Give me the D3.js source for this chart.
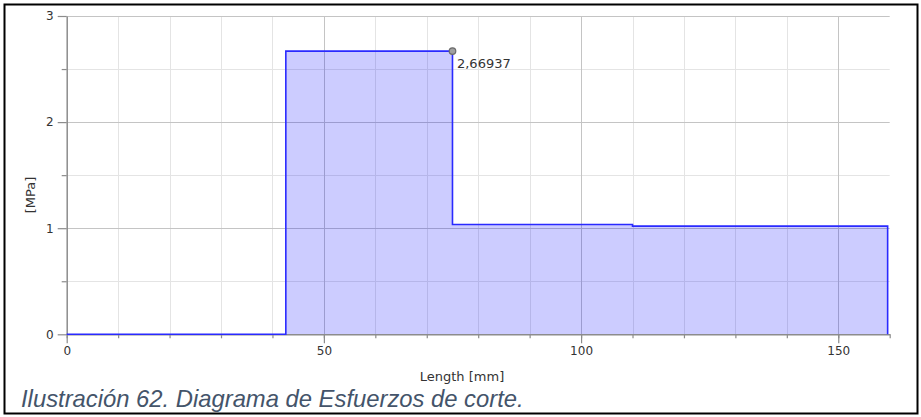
<!DOCTYPE html>
<html>
<head>
<meta charset="utf-8">
<script src="https://cdn.jsdelivr.net/npm/d3@7"></script>
<style>
  html, body { margin: 0; padding: 0; background: #fff; }
  svg { display: block; font-family: "DejaVu Sans", Verdana, sans-serif; }
</style>
</head>
<body>
<svg id="chart" width="921" height="417"></svg>
<script>
// Shear stress along the part: step boundaries [mm] and the value held on each step [MPa]
const stepStarts = [0, 42.6, 75, 110, 159.6];
const stepValues = [0, 2.66937, 1.035, 1.02, 0];

// Axis ticks
const xMajorTicks = [0, 50, 100, 150];
const xMinorTicks = d3.range(0, 161, 10);
const yMajorTicks = [0, 1, 2, 3];
const yMinorTicks = [0.5, 1.5, 2.5];

// Annotated peak
const peakX = 75;
const peakValue = 2.66937;
const peakLabel = "2,66937";

const xTitle = "Length [mm]";
const yTitle = "[MPa]";
const caption = "Ilustración 62. Diagrama de Esfuerzos de corte.";

const svg = d3.select("#chart");

const x = d3.scaleLinear().domain([0, 160]).range([66.7, 889.7]);
const y = d3.scaleLinear().domain([0, 3]).range([334.3, 16]);

// Outer frame
svg.append("rect")
  .attr("x", 4.5).attr("y", 4.5)
  .attr("width", 913).attr("height", 409)
  .attr("fill", "none").attr("stroke", "#000").attr("stroke-width", 2);

// Grid
const grid = svg.append("g");
grid.selectAll("line.vminor").data(xMinorTicks.filter(d => d % 50 !== 0 && d < 160)).join("line")
  .attr("x1", d => Math.round(x(d)) + 0.5).attr("x2", d => Math.round(x(d)) + 0.5)
  .attr("y1", y(3)).attr("y2", y(0))
  .attr("stroke", "#e4e4e4").attr("stroke-width", 1);
grid.selectAll("line.hminor").data(yMinorTicks).join("line")
  .attr("x1", x(0)).attr("x2", x(160))
  .attr("y1", d => Math.round(y(d)) + 0.5).attr("y2", d => Math.round(y(d)) + 0.5)
  .attr("stroke", "#e4e4e4").attr("stroke-width", 1);
grid.selectAll("line.vmajor").data(xMajorTicks.filter(d => d > 0)).join("line")
  .attr("x1", d => Math.round(x(d)) + 0.5).attr("x2", d => Math.round(x(d)) + 0.5)
  .attr("y1", y(3)).attr("y2", y(0))
  .attr("stroke", "#c4c4c4").attr("stroke-width", 1);
grid.selectAll("line.hmajor").data(yMajorTicks.filter(d => d > 0)).join("line")
  .attr("x1", x(0)).attr("x2", x(160))
  .attr("y1", d => Math.round(y(d)) + 0.5).attr("y2", d => Math.round(y(d)) + 0.5)
  .attr("stroke", "#c4c4c4").attr("stroke-width", 1);

// Stepped series
const pts = stepStarts.map((s, i) => [s, stepValues[i]]);
const area = d3.area()
  .x(d => x(d[0])).y0(y(0)).y1(d => y(d[1]))
  .curve(d3.curveStepAfter);
const line = d3.line()
  .x(d => x(d[0])).y(d => y(d[1]))
  .curve(d3.curveStepAfter);

svg.append("path").datum(pts)
  .attr("d", area)
  .attr("fill", "rgb(0,0,255)").attr("fill-opacity", 0.2);

// Axes
const xAxisMajor = d3.axisBottom(x).tickValues(xMajorTicks).tickSize(9).tickPadding(3).tickFormat(d3.format("d"));
const xAxisMinor = d3.axisBottom(x).tickValues(xMinorTicks).tickSize(4).tickFormat("");
const yAxisMajor = d3.axisLeft(y).tickValues(yMajorTicks).tickSize(9).tickPadding(4).tickFormat(d3.format("d"));
const yAxisMinor = d3.axisLeft(y).tickValues(yMinorTicks).tickSize(5).tickFormat("");

function styleAxis(g) {
  g.select(".domain").attr("stroke", "#8c8c8c").attr("stroke-width", 1.5);
  g.selectAll(".tick line").attr("stroke", "#8c8c8c").attr("stroke-width", 1.2);
  g.selectAll(".tick text").attr("fill", "#333").attr("font-size", 12)
    .style("font-family", "'DejaVu Sans', Verdana, sans-serif");
}

svg.append("g").attr("transform", `translate(0,${y(0)})`).call(xAxisMinor)
  .call(g => { styleAxis(g); g.select(".domain").remove(); });
svg.append("g").attr("transform", `translate(0,${y(0)})`).call(xAxisMajor.tickSizeOuter(0))
  .call(styleAxis);
svg.append("g").attr("transform", `translate(${x(0)},0)`).call(yAxisMinor)
  .call(g => { styleAxis(g); g.select(".domain").remove(); });
svg.append("g").attr("transform", `translate(${x(0)},0)`).call(yAxisMajor.tickSizeOuter(0))
  .call(styleAxis);

svg.append("path").datum(pts)
  .attr("d", line)
  .attr("fill", "none").attr("stroke", "#2a2aff").attr("stroke-width", 1.6);

// Peak marker and value
svg.append("circle")
  .attr("cx", x(peakX)).attr("cy", y(peakValue)).attr("r", 3.3)
  .attr("fill", "#a0a0a0").attr("stroke", "#6a6a6a").attr("stroke-width", 1.2);
svg.append("text")
  .attr("x", x(peakX) + 4.5).attr("y", y(peakValue) + 16.5)
  .attr("font-size", 13).attr("fill", "#333")
  .text(peakLabel);

// Axis titles
svg.append("text")
  .attr("x", 462).attr("y", 381)
  .attr("text-anchor", "middle").attr("font-size", 13).attr("fill", "#333")
  .text(xTitle);
svg.append("text")
  .attr("transform", "translate(35,195) rotate(-90)")
  .attr("text-anchor", "middle").attr("font-size", 13).attr("fill", "#333")
  .text(yTitle);

// Caption
svg.append("text")
  .attr("x", 21).attr("y", 407)
  .style("font-family", "'Liberation Sans', Arial, sans-serif")
  .style("font-style", "italic").attr("font-size", 23.8).attr("fill", "#44546a")
  .text(caption);
</script>
</body>
</html>
